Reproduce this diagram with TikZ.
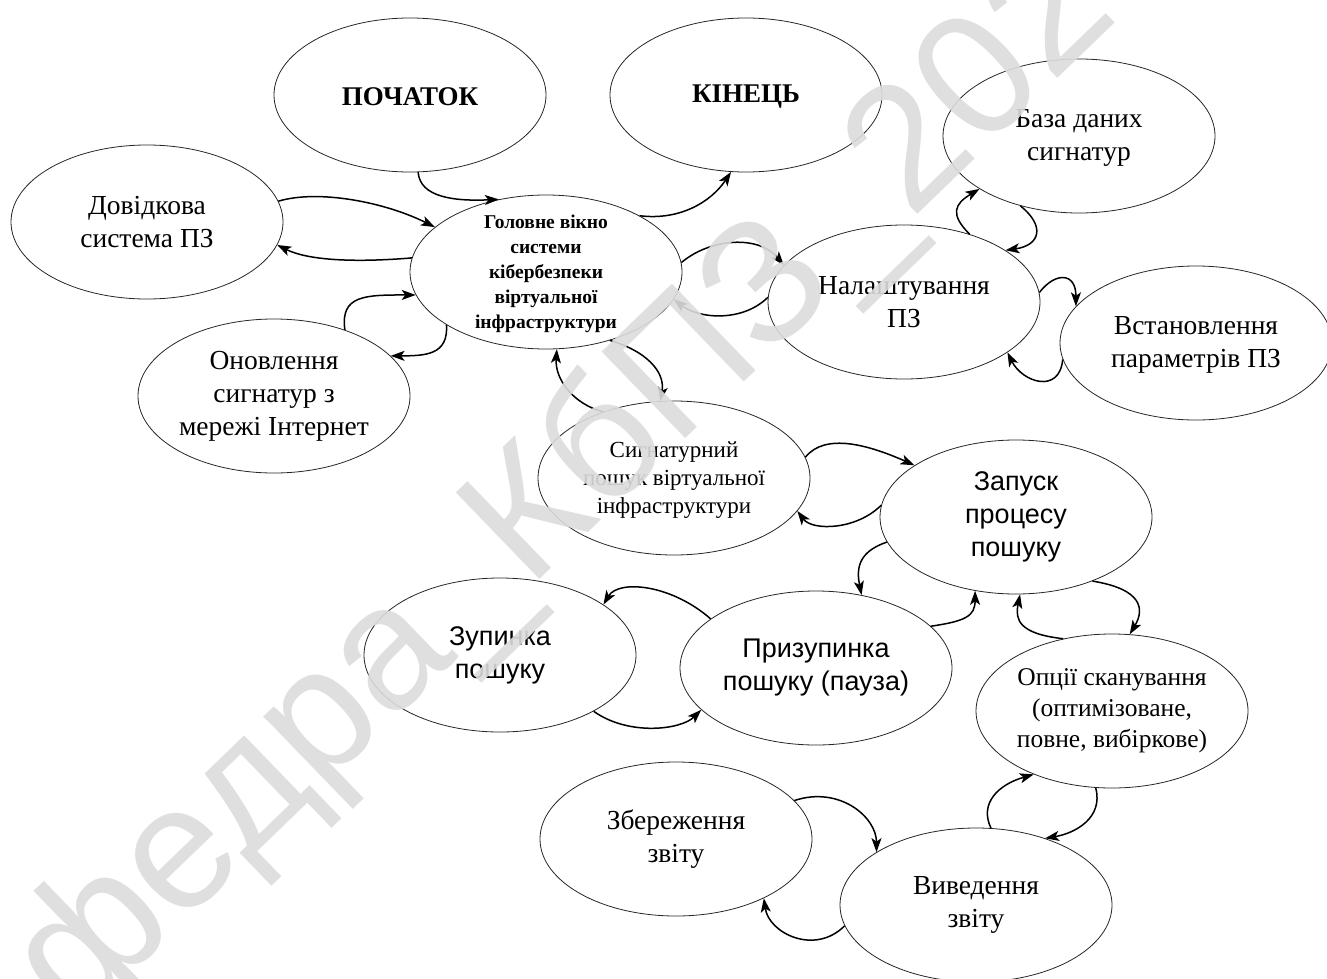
\documentclass[tikz,border=0pt]{standalone}
\usepackage{fontspec}
\setmainfont{Liberation Serif}
\newfontfamily\arialf{Liberation Sans}
\usetikzlibrary{arrows.meta,shapes.geometric}
\definecolor{wmgray}{RGB}{220,220,220}
\tikzset{
 ell/.style={draw=black!85, line width=0.8pt, ellipse, minimum width=272pt, minimum height=154pt, inner sep=0pt},
 txt/.style={align=center, inner sep=0pt},
 serif/.style={font=\fontsize{27.5}{33}\selectfont},
 sans/.style={font=\arialf\fontsize{27}{33}\selectfont},
 conn/.style={line width=1.5pt, -{Stealth[length=14pt,width=10pt,inset=3.5pt]}},
 wmark/.style={font=\arialf\fontsize{175}{175}\selectfont, text=wmgray, text opacity=0.9, inner sep=0pt}
}
\begin{document}
\begin{tikzpicture}[x=1pt,y=-1pt]
\useasboundingbox (0,0) rectangle (1327,979);
% ellipses
\node[ell] (S)  at (410,95) {};
\node[ell] (E)  at (746,95) {};
\node[ell] (DB) at (1079,136) {};
\node[ell] (H)  at (147,222) {};
\node[ell] (M)  at (546,272) {};
\node[ell] (N)  at (904,302) {};
\node[ell] (P)  at (1196,343) {};
\node[ell] (U)  at (274,396) {};
\node[ell] (SS) at (674,478) {};
\node[ell] (R)  at (1016,517) {};
\node[ell] (ST) at (500,655) {};
\node[ell] (PA) at (816,668) {};
\node[ell] (O)  at (1112,711) {};
\node[ell] (SV) at (676,839) {};
\node[ell] (V)  at (976,905) {};
% texts
\node[txt,font=\bfseries\fontsize{27}{33}\selectfont] (St) at ([yshift=-2pt]S) {ПОЧАТОК};
\node[txt,font=\bfseries\fontsize{27}{33}\selectfont] (Et) at ([yshift=-2pt]E) {КІНЕЦЬ};
\node[txt,serif] (DBt) at ([yshift=-2pt]DB) {База даних\\сигнатур};
\node[txt,serif] (Ht) at (H) {Довідкова\\система ПЗ};
\node[txt,font=\bfseries\fontsize{19.5}{25}\selectfont] (Mt) at ([yshift=-2pt]M) {Головне вікно\\системи\\кібербезпеки\\віртуальної\\інфраструктури};
\node[txt,serif] (Nt) at (N) {Налаштування\\ПЗ};
\node[txt,serif] (Pt) at ([yshift=-2pt]P) {Встановлення\\параметрів ПЗ};
\node[txt,serif] (Ut) at (U) {Оновлення\\сигнатур з\\мережі Інтернет};
\node[txt,font=\fontsize{23}{28}\selectfont] (SSt) at ([yshift=-2pt]SS) {Сигнатурний\\пошук віртуальної\\інфраструктури};
\node[txt,sans] (Rt) at (R) {Запуск\\процесу\\пошуку};
\node[txt,sans] (STt) at (ST) {Зупинка\\пошуку};
\node[txt,sans] (PAt) at (PA) {Призупинка\\пошуку (пауза)};
\node[txt,font=\fontsize{25.5}{31}\selectfont] (Ot) at (O) {Опції сканування\\(оптимізоване,\\повне, вибіркове)};
\node[txt,serif] (SVt) at (SV) {Збереження\\звіту};
\node[txt,serif] (Vt) at (V) {Виведення\\звіту};
% connectors
\draw[conn] (S.-84) .. controls +(2,25) and +(-45,2) .. (M.123);
\draw[conn] (M.31) .. controls +(40,5) and +(-20,30) .. (E.-101);
\draw[conn] (H.9) .. controls +(40,-12) and +(-50,-25) .. (M.158);
\draw[conn] (M.174) .. controls +(-60,5) and +(30,15) .. (H.-10);
\draw[conn] (U.43) .. controls +(-5,-35) and +(-50,0) .. (M.-170);
\draw[conn] (M.-152) .. controls +(2,30) and +(35,0) .. (U.19);
\draw[conn] (M.4) .. controls +(30,-25) and +(-25,-30) .. (N.163);
\draw[conn] (N.178) .. controls +(-25,25) and +(25,20) .. (M.-12);
\draw[conn] (N.46) .. controls +(-20,-20) and +(-25,15) .. (DB.-152);
\draw[conn] (DB.-130) .. controls +(25,20) and +(35,-5) .. (N.27);
\draw[conn] (N.4) .. controls +(15,-20) and +(0,-35) .. (P.163);
\draw[conn] (P.-173) .. controls +(-3,35) and +(15,30) .. (N.-26);
\draw[conn] (SS.137) .. controls +(-30,-8) and +(-2,30) .. (M.-82);
\draw[conn] (M.-47) .. controls +(35,10) and +(5,-30) .. (SS.100);
\draw[conn] (SS.9) .. controls +(20,-25) and +(-45,-20) .. (R.153);
\draw[conn] (R.175) .. controls +(-25,25) and +(15,20) .. (SS.-15);
\draw[conn] (R.-169) .. controls +(-30,10) and +(-5,-25) .. (PA.58);
\draw[conn] (PA.155) .. controls +(-40,-35) and +(15,-25) .. (ST.26);
\draw[conn] (ST.-31) .. controls +(35,25) and +(-20,20) .. (PA.-160);
\draw[conn] (PA.20) .. controls +(35,-5) and +(0,25) .. (R.-119);
\draw[conn] (R.-40) .. controls +(50,8) and +(15,-25) .. (O.77);
\draw[conn] (O.124) .. controls +(-45,-5) and +(-5,25) .. (R.-87);
\draw[conn] (V.79) .. controls +(-12,-25) and +(-35,10) .. (O.-141);
\draw[conn] (O.-102) .. controls +(8,30) and +(30,-5) .. (V.44);
\draw[conn] (SV.18) .. controls +(45,-15) and +(0,-35) .. (V.152);
\draw[conn] (V.-171) .. controls +(-30,30) and +(5,35) .. (SV.-34);
% watermark
\begin{scope}
\clip (0,0) rectangle (1327,979);
\node[wmark, rotate=44] (wm) at (530,525) {Кафедра\_КбПЗ\_2020};
\end{scope}
\end{tikzpicture}
\end{document}
